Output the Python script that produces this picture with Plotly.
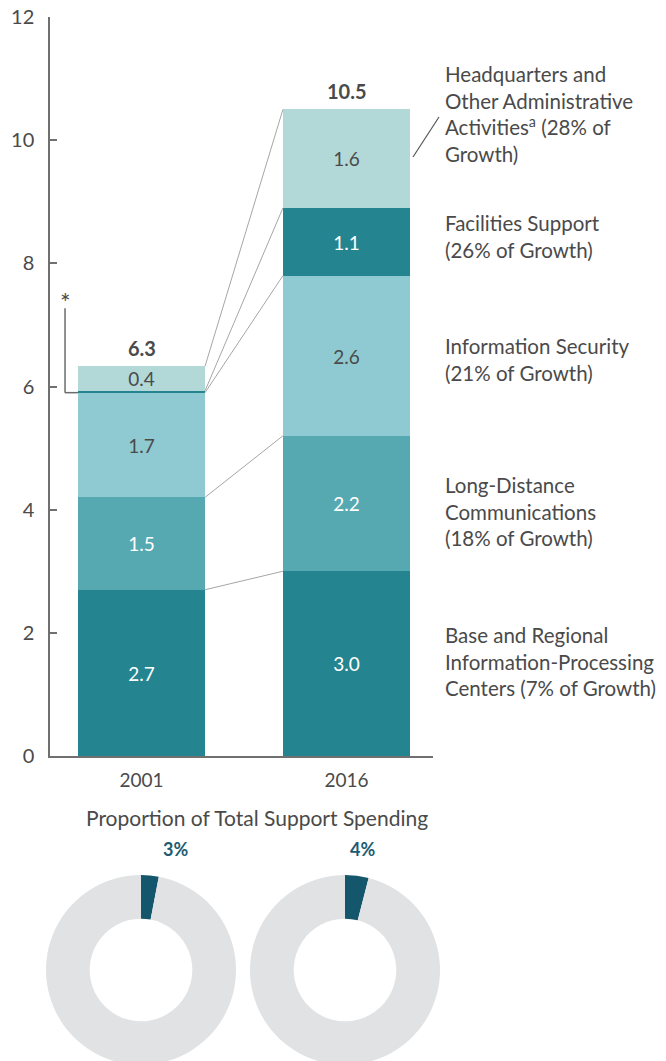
import plotly.graph_objects as go

# ---------------- data ----------------
years = ["2001", "2016"]
base_regional = [2.7, 3.0]
long_distance = [1.5, 2.2]
info_security = [1.7, 2.6]
facilities = [0.03, 1.1]
headquarters = [0.4, 1.6]
totals = [6.3, 10.5]
share_of_support = [3, 4]

series_names = [
    "Base and Regional<br>Information-Processing<br>Centers (7% of Growth)",
    "Long-Distance<br>Communications<br>(18% of Growth)",
    "Information Security<br>(21% of Growth)",
    "Facilities Support<br>(26% of Growth)",
    "Headquarters and<br>Other Administrative<br>Activities<sup>a</sup> (28% of<br>Growth)",
]
y_ticks = [0, 2, 4, 6, 8, 10, 12]

# ---------------- style ----------------
W, H = 666, 1061
OFF = 8  # page body margin
FONT = "Lato"
TXT = "#4a4a4a"
colors = ["#248490", "#56a9b1", "#8fcad2", "#248490", "#b3d8d8"]
txtcolors = ["white", "white", TXT, "white", TXT]
series = [base_regional, long_distance, info_security, facilities, headquarters]


def px(x):
    return (x - OFF) / W


def py(y):
    return 1 - (y - OFF) / H


BAR_W = 0.62
fig = go.Figure()

for vals, name, col, tc in zip(series, series_names, colors, txtcolors):
    fig.add_trace(go.Bar(
        x=[0, 1], y=vals, width=BAR_W, name=name,
        marker=dict(color=col, line=dict(width=0)),
        text=[f"{v:.1f}" for v in vals],
        textposition=["inside" if v >= 0.1 else "none" for v in vals],
        insidetextanchor="middle", textangle=0,
        constraintext="none",
        insidetextfont=dict(family=FONT, size=19, color=tc),
        hoverinfo="skip", showlegend=False,
    ))

# connector lines between segment tops
cum01, cum16 = 0, 0
for vals in series:
    cum01 += vals[0]
    cum16 += vals[1]
    fig.add_trace(go.Scatter(
        x=[BAR_W / 2, 1 - BAR_W / 2], y=[cum01, cum16], mode="lines",
        line=dict(color="#a6a6a6", width=1), hoverinfo="skip", showlegend=False,
    ))

# totals
for i, t in enumerate(totals):
    stack_top = sum(s[i] for s in series)
    fig.add_annotation(x=i, y=stack_top, xref="x", yref="y", text=f"<b>{t:.1f}</b>",
                       showarrow=False, yanchor="bottom", yshift=4,
                       font=dict(family=FONT, size=20, color=TXT))

# asterisk bracket for the tiny 2001 facilities segment
fac_base = base_regional[0] + long_distance[0] + info_security[0]
bx = -BAR_W / 2 - 0.063
fig.add_shape(type="line", xref="x", yref="y", x0=bx, x1=bx, y0=fac_base, y1=fac_base + 1.37,
              line=dict(color="#6b6b6b", width=1.5))
fig.add_shape(type="line", xref="x", yref="y", x0=bx, x1=-BAR_W / 2, y0=fac_base, y1=fac_base,
              line=dict(color="#6b6b6b", width=1.5))
fig.add_annotation(x=bx, y=fac_base + 1.37, xref="x", yref="y", text="*", showarrow=False,
                   yanchor="bottom", yshift=-11, font=dict(family=FONT, size=25, color=TXT))

# right-hand labels
label_centers = [661.5, 511.5, 359, 237, 113.5]
for name, yc in zip(series_names, label_centers):
    fig.add_annotation(x=px(443), y=py(yc), xref="paper", yref="paper", text=name,
                       showarrow=False, xanchor="left", yanchor="middle", align="left",
                       font=dict(family=FONT, size=20.5, color=TXT))
fig.add_shape(type="line", xref="paper", yref="paper", x0=px(413), y0=py(157), x1=px(439), y1=py(117),
              line=dict(color="#555555", width=1.2))

# donut charts
fig.add_annotation(x=px(256.5), y=py(832), xref="paper", yref="paper",
                   text="Proportion of Total Support Spending", showarrow=False,
                   font=dict(family=FONT, size=21, color=TXT))
R = 95
centers_x = [141, 345]
center_y = 970
pct_label_x = [161, 362.5]
for s, cx, lx in zip(share_of_support, centers_x, pct_label_x):
    fig.add_trace(go.Pie(
        values=[s, 100 - s], hole=0.54, sort=False, direction="clockwise", rotation=0,
        marker=dict(colors=["#14566b", "#e1e2e4"], line=dict(width=0)),
        textinfo="none", hoverinfo="skip", showlegend=False,
        domain=dict(x=[px(cx - R), px(cx + R)], y=[py(center_y + R), py(center_y - R)]),
    ))
    fig.add_annotation(x=px(lx), y=py(862), xref="paper", yref="paper", text=f"<b>{s}%</b>",
                       showarrow=False, font=dict(family=FONT, size=18, color="#1b5c72"))

x0_px, x1_px = 50, 433
c0, step = 141.5, 205.0
fig.update_layout(
    width=W, height=H, margin=dict(l=0, r=0, t=0, b=0),
    paper_bgcolor="white", plot_bgcolor="white",
    barmode="stack", bargap=0,
    font=dict(family=FONT, color=TXT),
    xaxis=dict(domain=[px(x0_px), px(x1_px)],
               range=[(x0_px - c0) / step, (x1_px - c0) / step],
               tickvals=[0, 1], ticktext=years, ticks="", showgrid=False, zeroline=False,
               showline=True, linecolor="#707070", linewidth=1.5,
               tickfont=dict(family=FONT, size=19, color=TXT), ticklabelstandoff=6,
               fixedrange=True, automargin=False),
    yaxis=dict(domain=[py(756), py(17)], range=[0, 12], tickvals=y_ticks,
               ticks="inside", ticklen=7, tickwidth=1.5, tickcolor="#707070",
               showgrid=False, zeroline=False, showline=True, linecolor="#707070", linewidth=1.5,
               tickfont=dict(family=FONT, size=20, color=TXT), ticklabelstandoff=10,
               ticklabeloverflow="allow",
               fixedrange=True, automargin=False),
)

fig.write_html("out.html")
